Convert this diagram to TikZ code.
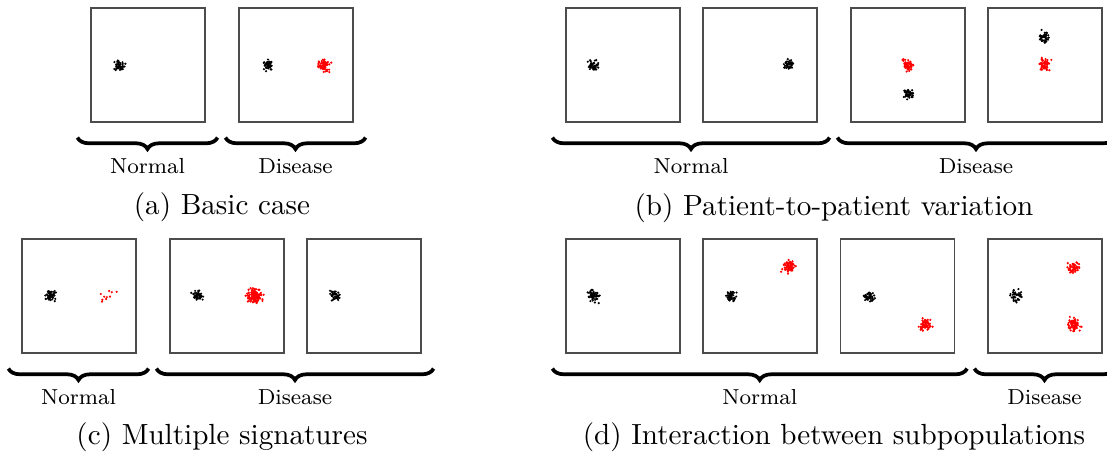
\documentclass[tikz,border=0pt]{standalone}
\usetikzlibrary{calc,decorations.pathreplacing}

% one cluster of cells: centre, colour, number of cells, spread
\newcommand{\cellcloud}[4]{%
	\foreach \k in {1,...,#3}{
		\pgfmathsetmacro{\dx}{#4*(rand+rand+rand)}
		\pgfmathsetmacro{\dy}{#4*(rand+rand+rand)}
		\fill[#2] ($#1+(\dx,\dy)$) circle[radius=0.42pt];
	}}

\begin{document}
\begin{tikzpicture}[x=0.35pt, y=-0.35pt,
	panel/.style={draw=black!70, line width=0.4pt, minimum size=39.9pt, inner sep=0pt},
	group_brace/.style={decorate, decoration={brace, mirror, amplitude=4pt}, line width=1.3pt},
	group_label/.style={font=\fontsize{7.6}{9}\selectfont, yshift=-10pt},
	sub_caption/.style={font=\fontsize{10.2}{12}\selectfont}]
	\useasboundingbox (0,0) rectangle (1107,454);
	\pgfmathsetseed{7}
	% panels
	\node[panel] (a1) at (148,65){};
	\node[panel] (a2) at (296,65){};
	\node[panel] (b1) at (623,65){};
	\node[panel] (b2) at (760,65){};
	\node[panel] (b3) at (908,65){};
	\node[panel] (b4) at (1045,65){};
	\node[panel] (c1) at (79,296){};
	\node[panel] (c2) at (227,296){};
	\node[panel] (c3) at (364,296){};
	\node[panel] (d1) at (623,296){};
	\node[panel] (d2) at (760,296){};
	\node[panel] (d3) at (897.5,296){};
	\node[panel] (d4) at (1045,296){};
	% cells
	\cellcloud{(a1)+(-28.5,0)}{black}{45}{2.5}
	\cellcloud{(a2)+(-28.5,0)}{black}{45}{2.5}
	\cellcloud{(a2)+(28.5,0)}{red}{70}{3}
	\cellcloud{(b1)+(-30,0)}{black}{45}{2.5}
	\cellcloud{(b2)+(28.5,0)}{black}{45}{2.5}
	\cellcloud{(b3)+(0,0)}{red}{60}{2.8}
	\cellcloud{(b3)+(0,28.5)}{black}{45}{2.5}
	\cellcloud{(b4)+(0,-28.5)}{black}{45}{2.5}
	\cellcloud{(b4)+(0,0)}{red}{60}{2.8}
	\cellcloud{(c1)+(-28.5,0)}{black}{60}{2.5}
	\cellcloud{(c1)+(28.5,0)}{red}{10}{4}
	\cellcloud{(c2)+(-29,0)}{black}{50}{2.5}
	\cellcloud{(c2)+(27.5,0)}{red}{130}{3.5}
	\cellcloud{(c3)+(-29,0)}{black}{45}{2.5}
	\cellcloud{(d1)+(-30,0)}{black}{50}{2.6}
	\cellcloud{(d2)+(-28.5,0)}{black}{50}{2.5}
	\cellcloud{(d2)+(28.5,-28.5)}{red}{70}{3}
	\cellcloud{(d3)+(-28.5,0)}{black}{45}{2.5}
	\cellcloud{(d3)+(28.5,28.5)}{red}{70}{3}
	\cellcloud{(d4)+(-28.5,0)}{black}{40}{3}
	\cellcloud{(d4)+(28.5,-28.5)}{red}{60}{3}
	\cellcloud{(d4)+(28.5,28.5)}{red}{80}{3}
	% braces
	\draw[group_brace] ($(a1.south west)+(-13,15)$) -- ($(a1.south east)+(12,15)$) node[midway, group_label] (aN){Normal};
	\draw[group_brace] ($(a2.south west)+(-13,15)$) -- ($(a2.south east)+(12,15)$) node[midway, group_label] (aD){Disease};
	\draw[group_brace] ($(b1.south west)+(-13,15)$) -- ($(b2.south east)+(12,15)$) node[midway, group_label] (bN){Normal};
	\draw[group_brace] ($(b3.south west)+(-13,15)$) -- ($(b4.south east)+(12,15)$) node[midway, group_label] (bD){Disease};
	\draw[group_brace] ($(c1.south west)+(-13,15)$) -- ($(c1.south east)+(12,15)$) node[midway, group_label] (cN){Normal};
	\draw[group_brace] ($(c2.south west)+(-13,15)$) -- ($(c3.south east)+(12,15)$) node[midway, group_label] (cD){Disease};
	\draw[group_brace] ($(d1.south west)+(-13,15)$) -- ($(d3.south east)+(12,15)$) node[midway, group_label] (dN){Normal};
	\draw[group_brace] ($(d4.south west)+(-13,15)$) -- ($(d4.south east)+(12,15)$) node[midway, group_label] (dD){Disease};
	% captions
	\node[sub_caption] (capA) at (222,207){(a) Basic case};
	\node[sub_caption] (capB) at (834,208){(b) Patient-to-patient variation};
	\node[sub_caption] (capC) at (222,437){(c) Multiple signatures};
	\node[sub_caption] (capD) at (834,437){(d) Interaction between subpopulations};
\end{tikzpicture}
\end{document}
